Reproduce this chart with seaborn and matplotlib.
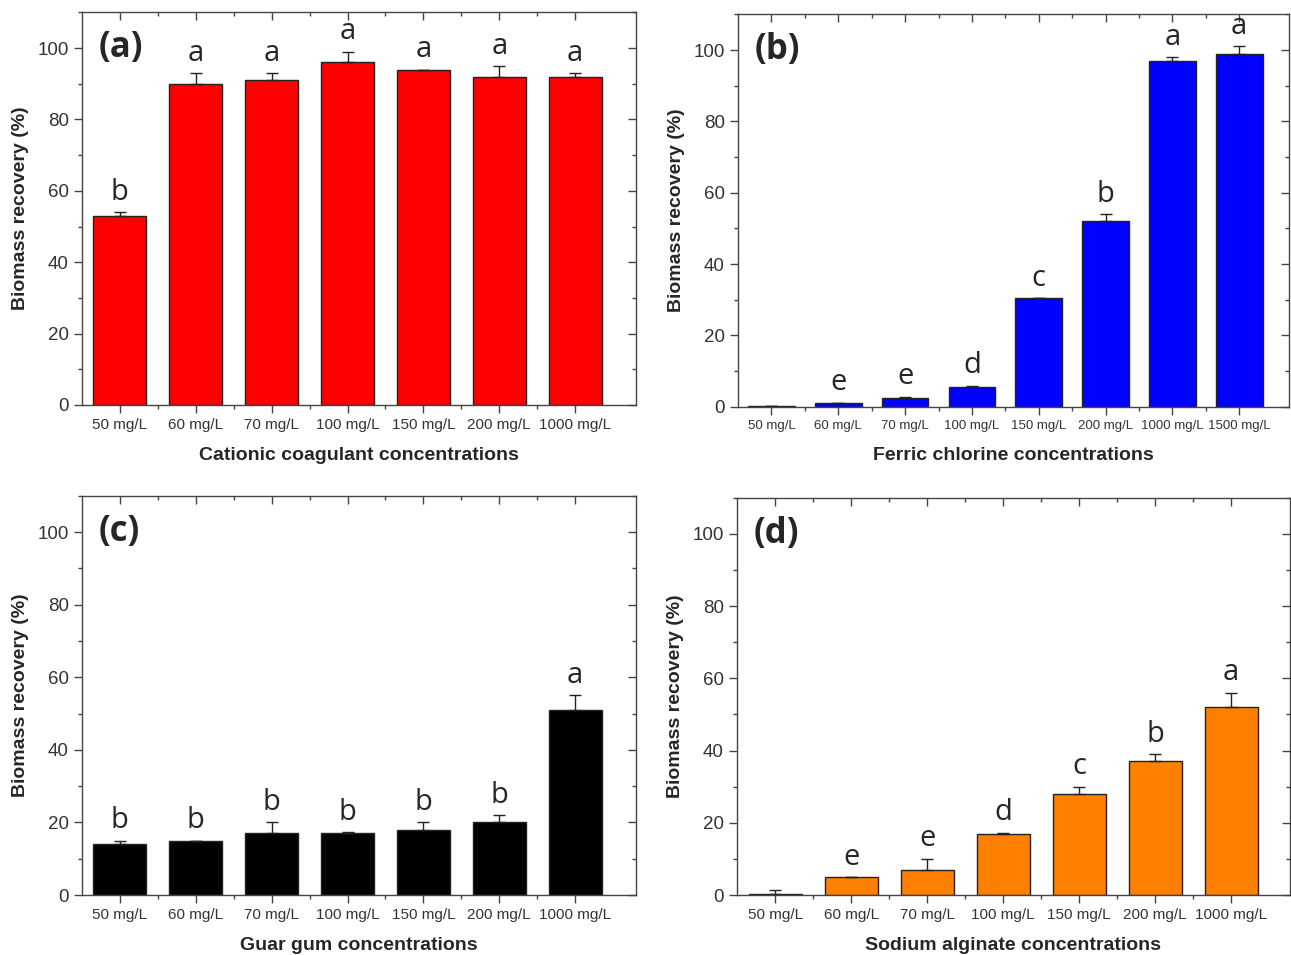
import numpy as np
import pandas as pd
import matplotlib
matplotlib.use("Agg")
import matplotlib.pyplot as plt
import seaborn as sns
from matplotlib.ticker import MultipleLocator

# --- data ---
conc_7 = ["50 mg/L", "60 mg/L", "70 mg/L", "100 mg/L", "150 mg/L", "200 mg/L", "1000 mg/L"]
conc_8 = conc_7 + ["1500 mg/L"]

cationic_mean = [53, 90, 91, 96, 94, 92, 92]
cationic_err = [1, 3, 2, 3, 0, 3, 1]
cationic_lett = ["b", "a", "a", "a", "a", "a", "a"]

ferric_mean = [0.3, 1.0, 2.5, 5.6, 30.5, 52, 97, 99]
ferric_err = [0, 0.2, 0.3, 0.3, 0, 2, 1, 2]
ferric_lett = ["", "e", "e", "d", "c", "b", "a", "a"]

guar_mean = [14, 15, 17, 17, 18, 20, 51]
guar_err = [1, 0, 3, 0.3, 2, 2, 4]
guar_lett = ["b", "b", "b", "b", "b", "b", "a"]

alginate_mean = [0.3, 5, 7, 17, 28, 37, 52]
alginate_err = [1, 0, 3, 0.3, 2, 2, 4]
alginate_lett = ["", "e", "e", "d", "c", "b", "a"]

sns.set_theme(style="white")
plt.rcParams["font.family"] = ["Liberation Sans", "DejaVu Sans"]
LETTER = ["Open Sans", "DejaVu Sans"]

fig = plt.figure(figsize=(12.91, 9.55), dpi=100)

panels = [
    # tag, cats, mean, err, letters, colour, xlabel, axes rect, xlim, tick fontsize
    ("(a)", conc_7, cationic_mean, cationic_err, cationic_lett, "#ff0000",
     "Cationic coagulant concentrations", [0.0635, 0.576, 0.429, 0.411], (-0.5, 6.8), 11),
    ("(b)", conc_8, ferric_mean, ferric_err, ferric_lett, "#0000ff",
     "Ferric chlorine concentrations", [0.5717, 0.574, 0.427, 0.411], (-0.5, 7.75), 9.5),
    ("(c)", conc_7, guar_mean, guar_err, guar_lett, "#000000",
     "Guar gum concentrations", [0.0635, 0.0628, 0.429, 0.418], (-0.5, 6.8), 11),
    ("(d)", conc_7, alginate_mean, alginate_err, alginate_lett, "#ff8000",
     "Sodium alginate concentrations", [0.571, 0.0628, 0.428, 0.416], (-0.5, 6.77), 11),
]

for tag, cats, mean, err, lett, col, xlab, rect, xlim, tfs in panels:
    ax = fig.add_axes(rect)
    df = pd.DataFrame({"conc": cats, "rec": mean})
    sns.barplot(data=df, x="conc", y="rec", order=cats, color=col, saturation=1,
                edgecolor="#222222", linewidth=1.0, width=0.7, errorbar=None, ax=ax)
    xs = np.arange(len(cats))
    ax.errorbar(xs, mean, yerr=[np.zeros(len(err)), err], fmt="none",
                ecolor="#222222", elinewidth=1.0, capsize=4, capthick=1.0)
    for x, m, e, t in zip(xs, mean, err, lett):
        if t:
            ax.text(x, m + e + 1.5, t, ha="center", va="bottom", fontsize=21,
                    family=LETTER)

    ax.set_xlim(*xlim)
    ax.set_ylim(0, 110)
    ax.yaxis.set_major_locator(MultipleLocator(20))
    ax.yaxis.set_minor_locator(MultipleLocator(10))
    ax.set_xticks(xs)
    ax.set_xticklabels(cats, fontsize=tfs, color="#333333")
    ax.set_xticks(xs[:-1] + 0.5, minor=True)
    ax.tick_params(axis="y", labelsize=13.5, labelcolor="#333333")
    ax.tick_params(which="major", direction="out", length=6, width=1, color="#444444",
                   bottom=True, left=True)
    ax.tick_params(which="minor", direction="out", length=3, width=1, color="#444444",
                   bottom=True, left=True)

    # inward ticks on top and right, like the original software
    top = ax.secondary_xaxis("top")
    top.set_xticks(xs, labels=[])
    top.set_xticks(xs[:-1] + 0.5, minor=True)
    top.tick_params(which="major", direction="in", length=6, width=1, color="#444444")
    top.tick_params(which="minor", direction="in", length=3, width=1, color="#444444")
    top.spines["top"].set_visible(False)
    right = ax.secondary_yaxis("right")
    right.yaxis.set_major_locator(MultipleLocator(20))
    right.yaxis.set_minor_locator(MultipleLocator(10))
    right.set_yticklabels([])
    right.tick_params(which="major", direction="in", length=6, width=1, color="#444444")
    right.tick_params(which="minor", direction="in", length=3, width=1, color="#444444")
    right.spines["right"].set_visible(False)

    for s in ax.spines.values():
        s.set_visible(True)
        s.set_color("#444444")
        s.set_linewidth(1.0)

    ax.set_xlabel(xlab, fontsize=14, fontweight="bold", labelpad=11)
    ax.set_ylabel("Biomass recovery (%)", fontsize=14, fontweight="bold", labelpad=6)
    ax.text(0.03, 0.91, tag, transform=ax.transAxes, fontsize=25, fontweight="bold",
            va="center", ha="left", family=LETTER)

fig.savefig("out.png", dpi=100)
